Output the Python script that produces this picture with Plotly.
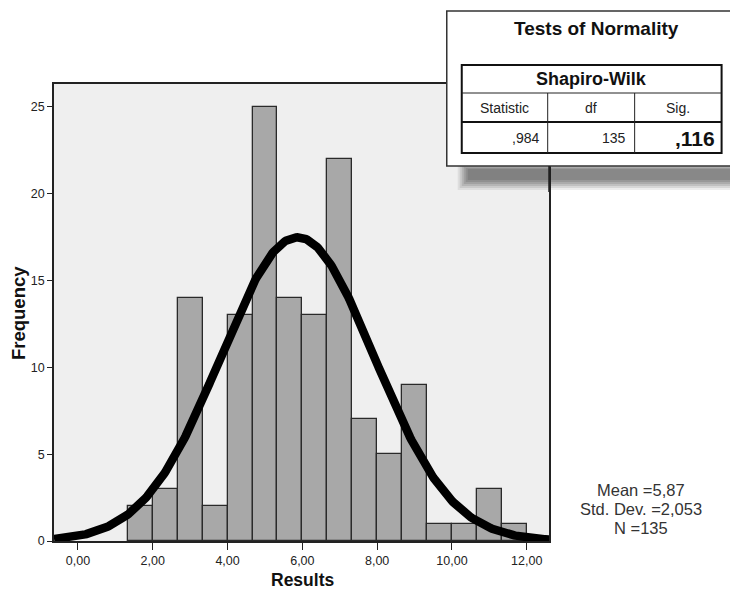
import numpy as np
import plotly.graph_objects as go

# ---- data ----
bin_start = 4 / 3          # first bin left edge
bin_width = 2 / 3
counts = [2, 3, 14, 2, 13, 25, 14, 13, 22, 7, 5, 9, 1, 1, 3, 1]
mean_val = 5.87
sd_val = 2.053
n_val = 135
x_tickvals = [0, 2, 4, 6, 8, 10, 12]
x_ticktext = ["0,00", "2,00", "4,00", "6,00", "8,00", "10,00", "12,00"]
y_tickvals = [0, 5, 10, 15, 20, 25]
stats_lines = ["Mean =5,87", "Std. Dev. =2,053", "N =135"]
table_title = "Tests of Normality"
table_group = "Shapiro-Wilk"
table_headers = ["Statistic", "df", "Sig."]
table_values = [",984", "135", ",116"]

centers = [bin_start + bin_width * (i + 0.5) for i in range(len(counts))]
xc = np.linspace(-0.64, 12.6, 400)
yc = n_val * bin_width * np.exp(-0.5 * ((xc - mean_val) / sd_val) ** 2) / (sd_val * np.sqrt(2 * np.pi))

FONT = "Arial, Liberation Sans, sans-serif"

fig = go.Figure()
fig.add_trace(go.Bar(x=centers, y=counts, width=bin_width,
                     marker=dict(color="#a8a8a8", line=dict(color="#2a2a2a", width=1.3)),
                     hoverinfo="skip"))
fig.add_trace(go.Scatter(x=xc, y=yc, mode="lines",
                         line=dict(color="#000000", width=8.5), hoverinfo="skip"))

# pixel -> paper helpers (plot area: x 54..549.3, y 84..541)
L, R, T, B = 54, 549.3, 84, 541
def px(v):
    return (v - L) / (R - L)
def py(v):
    return (B - v) / (B - T)

shapes = []
# soft shadow under the table box: nested translucent rectangles
for (x0, y0, y1, op) in [(458, 166, 190, 0.08), (460, 166, 188, 0.10), (462, 166, 186, 0.12),
                         (464, 167, 184, 0.13), (466, 168, 182, 0.13), (468, 169, 180, 0.13)]:
    shapes.append(dict(type="rect", xref="paper", yref="paper", x0=px(x0), x1=px(745),
                       y0=py(y1), y1=py(y0), fillcolor=f"rgba(30,30,30,{op})",
                       line=dict(width=0), layer="above"))
# table box
shapes.append(dict(type="rect", xref="paper", yref="paper", x0=px(447), x1=px(745), y0=py(166), y1=py(11),
                   fillcolor="white", line=dict(color="#333", width=1.5), layer="above"))
# inner table
shapes.append(dict(type="rect", xref="paper", yref="paper", x0=px(462), x1=px(722), y0=py(153), y1=py(65),
                   fillcolor="white", line=dict(color="#111", width=2), layer="above"))
shapes.append(dict(type="line", xref="paper", yref="paper", x0=px(462), x1=px(722), y0=py(93), y1=py(93),
                   line=dict(color="#222", width=1), layer="above"))
shapes.append(dict(type="line", xref="paper", yref="paper", x0=px(462), x1=px(722), y0=py(122), y1=py(122),
                   line=dict(color="#111", width=2), layer="above"))
for xv in [548, 635]:
    shapes.append(dict(type="line", xref="paper", yref="paper", x0=px(xv), x1=px(xv), y0=py(153), y1=py(93),
                       line=dict(color="#222", width=1), layer="above"))
# plot right border visible through the shadow
shapes.append(dict(type="line", xref="paper", yref="paper", x0=1, x1=1, y0=py(192), y1=py(166),
                   line=dict(color="#222", width=1.5), layer="above"))

ann = []
def add_text(text, x, y, size, bold=False, xanchor="center", color="#111"):
    ann.append(dict(text=f"<b>{text}</b>" if bold else text, xref="paper", yref="paper",
                    x=px(x), y=py(y), xanchor=xanchor, yanchor="middle", showarrow=False,
                    font=dict(family=FONT, size=size, color=color)))

add_text(table_title, 597, 28, 19, bold=True)
add_text(table_group, 592, 79, 18, bold=True)
add_text(table_headers[0], 505, 108, 14, color="#222")
add_text(table_headers[1], 591, 108, 14, color="#222")
add_text(table_headers[2], 678, 108, 14, color="#222")
add_text(table_values[0], 541, 138, 14, xanchor="right", color="#222")
add_text(table_values[1], 628, 138, 14, xanchor="right", color="#222")
add_text(table_values[2], 717, 138, 21, bold=True, xanchor="right")
for i, s in enumerate(stats_lines):
    add_text(s, 641, 490 + 19 * i, 16.5, color="#333")
add_text("Results", 303, 580, 17.5, bold=True)
ann.append(dict(text="<b>Frequency</b>", xref="paper", yref="paper", x=px(18), y=py(313),
                xanchor="center", yanchor="middle", textangle=-90, showarrow=False,
                font=dict(family=FONT, size=18.5, color="#111")))

fig.update_layout(
    width=730, height=592,
    margin=dict(l=L, r=730 - R, t=T, b=592 - B),
    paper_bgcolor="white", plot_bgcolor="#efefef",
    showlegend=False, bargap=0,
    shapes=shapes, annotations=ann,
    xaxis=dict(range=[-0.641, 12.595], tickvals=x_tickvals, ticktext=x_ticktext,
               ticks="outside", ticklen=7, tickcolor="#222", tickwidth=1.2,
               showline=True, mirror=True, linecolor="#222", linewidth=1.5,
               showgrid=False, zeroline=False,
               tickfont=dict(family=FONT, size=12.5, color="#222")),
    yaxis=dict(range=[0, 26.32], tickvals=y_tickvals,
               ticks="outside", ticklen=5, tickcolor="#222", tickwidth=1.2,
               showline=True, mirror=True, linecolor="#222", linewidth=1.5,
               showgrid=False, zeroline=False,
               tickfont=dict(family=FONT, size=12.5, color="#222")),
)

fig.write_html("out.html")
